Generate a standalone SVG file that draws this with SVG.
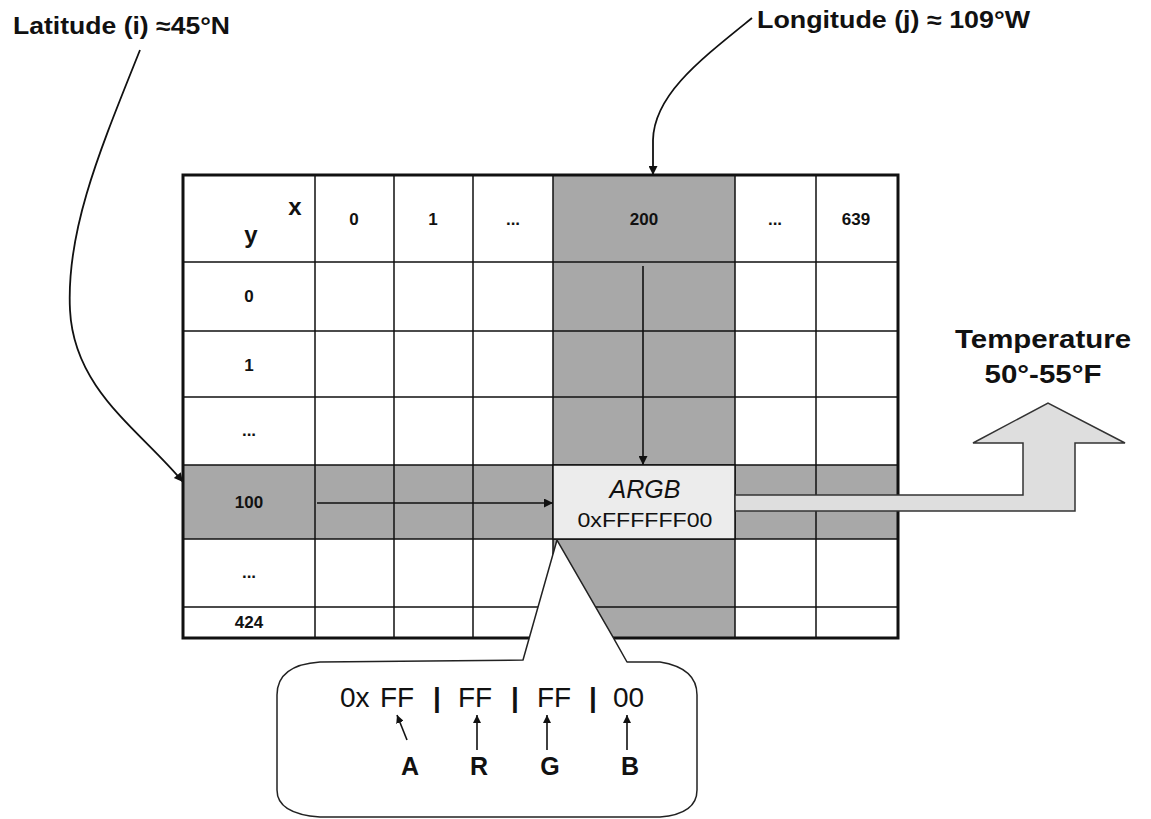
<svg xmlns="http://www.w3.org/2000/svg" width="1151" height="819" viewBox="0 0 1151 819">
<style>
.lbl{font-family:"Liberation Sans",Arial,sans-serif;font-weight:bold;fill:#111}
.num{font-family:"Liberation Sans",Arial,sans-serif;font-weight:bold;font-size:17px;fill:#111;text-anchor:middle}
.thin{font-family:"Liberation Sans",Arial,sans-serif;fill:#111}
.grid{stroke:#111;stroke-width:1.5;fill:none}
.conn{stroke:#111;stroke-width:1.8;fill:none}
.thinconn{stroke:#111;stroke-width:1.6;fill:none}
</style>
<defs>
<marker id="ah" viewBox="0 0 10 10" refX="10" refY="5" markerWidth="8" markerHeight="8" markerUnits="userSpaceOnUse" orient="auto"><path d="M0,0 L10,5 L0,10 z" fill="#111"/></marker>
<marker id="ahL" viewBox="0 0 10 10" refX="10" refY="5" markerWidth="10" markerHeight="9" markerUnits="userSpaceOnUse" orient="auto"><path d="M0,0 L10,5 L0,10 z" fill="#111"/></marker>
</defs>
<rect width="1151" height="819" fill="#fff"/>

<g id="latitude-label"><text class="lbl" x="13" y="34" font-size="23" textLength="217" lengthAdjust="spacingAndGlyphs">Latitude (i) ≈45°N</text></g>
<g id="longitude-label"><text class="lbl" x="757" y="28" font-size="23" textLength="273" lengthAdjust="spacingAndGlyphs">Longitude (j) ≈ 109°W</text></g>

<g id="table">
<rect x="183" y="175" width="715" height="463" fill="#fff"/>
<rect x="553" y="175" width="182" height="463" fill="#a8a8a8"/>
<rect x="183" y="465" width="715" height="74" fill="#a8a8a8"/>
<g class="grid">
<path d="M315,175V638M394,175V638M473,175V638M553,175V638M735,175V638M816,175V638"/>
<path d="M183,262H898M183,331H898M183,397H898M183,465H898M183,539H898M183,607H898"/>
</g>
<rect x="183" y="175" width="715" height="463" fill="none" stroke="#111" stroke-width="3"/>
<text class="lbl" x="295" y="215" font-size="24" text-anchor="middle">x</text>
<text class="lbl" x="251" y="243" font-size="24" text-anchor="middle">y</text>
<text class="num" x="354" y="225">0</text>
<text class="num" x="433" y="225">1</text>
<text class="num" x="513" y="225">...</text>
<text class="num" x="644" y="225">200</text>
<text class="num" x="775" y="225">...</text>
<text class="num" x="856" y="225">639</text>
<text class="num" x="249" y="302">0</text>
<text class="num" x="249" y="371">1</text>
<text class="num" x="249" y="436">...</text>
<text class="num" x="249" y="508">100</text>
<text class="num" x="249" y="578">...</text>
<text class="num" x="249" y="628">424</text>
</g>

<g id="argb-cell">
<rect x="553" y="465" width="182" height="74" fill="#ececec" stroke="#111" stroke-width="1.5"/>
<text class="thin" x="645" y="498" font-size="25" font-style="italic" text-anchor="middle">ARGB</text>
<text class="thin" x="645" y="527" font-size="21" text-anchor="middle" textLength="135" lengthAdjust="spacingAndGlyphs">0xFFFFFF00</text>
</g>

<g id="temperature">
<path d="M735,495 L1023,495 L1023,443 L973,443 L1048,403 L1125,443 L1075,443 L1075,511 L735,511 Z" fill="#dedede" stroke="#333" stroke-width="1.5"/>
<text class="lbl" x="1043" y="348" font-size="26" text-anchor="middle" textLength="176" lengthAdjust="spacingAndGlyphs">Temperature</text>
<text class="lbl" x="1043" y="383" font-size="26" text-anchor="middle" textLength="117" lengthAdjust="spacingAndGlyphs">50°-55°F</text>
</g>

<g id="bubble">
<path d="M557,540 L613,637 L627,662 L660,662 Q697,668 697,695 L697,790 Q697,814 660,817 L320,817 Q277,814 277,790 L277,695 Q277,665 320,662 L523,660 Z" fill="#fff" stroke="#222" stroke-width="1.5" stroke-linejoin="round"/>
<g class="thin" font-size="28">
<text x="340" y="707">0x</text>
<text x="380" y="707">FF</text>
<text x="437" y="707" text-anchor="middle" font-weight="bold">|</text>
<text x="458" y="707">FF</text>
<text x="515" y="707" text-anchor="middle" font-weight="bold">|</text>
<text x="537" y="707">FF</text>
<text x="593" y="707" text-anchor="middle" font-weight="bold">|</text>
<text x="613" y="707">00</text>
</g>
<g class="lbl" font-size="25" text-anchor="middle">
<text x="410" y="775">A</text>
<text x="479" y="775">R</text>
<text x="550" y="775">G</text>
<text x="630" y="775">B</text>
</g>
</g>

<g id="connectors">
<path class="conn" d="M140,50 C100,150 66,230 70,310 C74,390 140,430 183,482" marker-end="url(#ahL)"/>
<path class="conn" d="M752,18 C700,60 654,95 653,140 L653,175" marker-end="url(#ahL)"/>
<path class="thinconn" d="M643,266 V465" marker-end="url(#ahL)"/>
<path class="thinconn" d="M317,503 H553" marker-end="url(#ahL)"/>
<path class="thinconn" d="M407,740 L397,715" marker-end="url(#ah)"/>
<path class="thinconn" d="M477,750 V715" marker-end="url(#ah)"/>
<path class="thinconn" d="M547,750 V715" marker-end="url(#ah)"/>
<path class="thinconn" d="M627,750 V715" marker-end="url(#ah)"/>
</g>
</svg>
